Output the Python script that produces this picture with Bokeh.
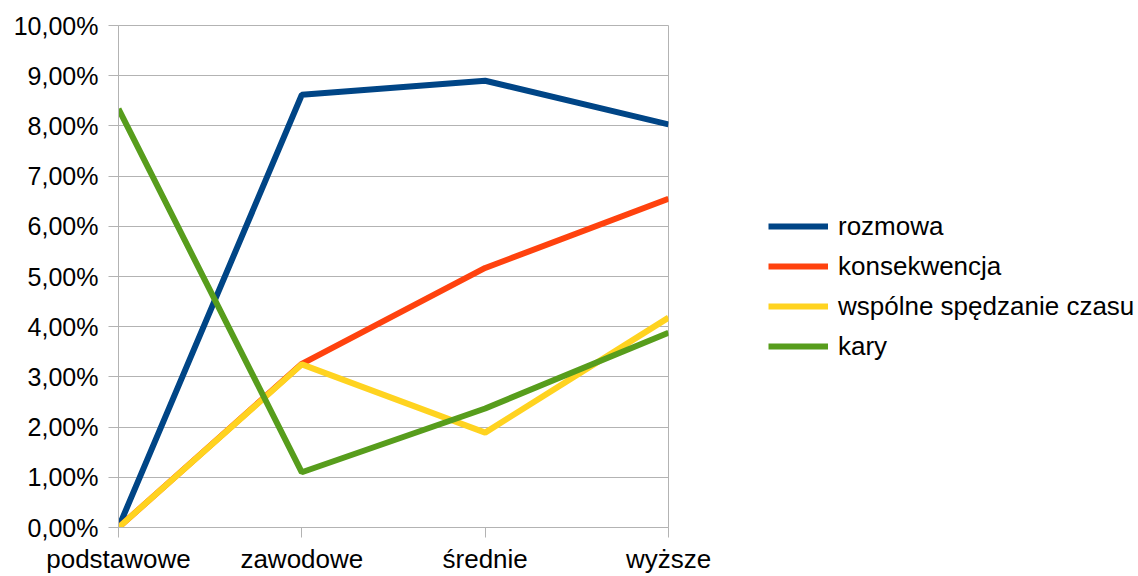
from bokeh.plotting import figure
from bokeh.models import Range1d, FixedTicker, Legend, LegendItem
from bokeh.embed import file_html
from bokeh.resources import INLINE

categories = ["podstawowe", "zawodowe", "średnie", "wyższe"]
rozmowa = [0.0, 8.62, 8.90, 8.03]
konsekwencja = [0.0, 3.26, 5.17, 6.55]
wspolne = [0.0, 3.25, 1.89, 4.18]
kary = [8.34, 1.10, 2.37, 3.88]
series_names = ["rozmowa", "konsekwencja", "wspólne spędzanie czasu", "kary"]
colors = ["#004586", "#ff420e", "#ffd320", "#579d1c"]
y_ticks = list(range(0, 11))
y_labels = {t: f"{t},00%" for t in y_ticks}

FONT = "Liberation Sans"

p = figure(frame_width=550, height=576, output_backend="svg", toolbar_location=None,
           x_range=Range1d(0, len(categories) - 1), y_range=Range1d(0, 10),
           min_border_left=118, min_border_right=100, min_border_top=25, min_border_bottom=48)
p.outline_line_color = "#b3b3b3"
p.background_fill_color = "white"
p.border_fill_color = "white"

xs = list(range(len(categories)))
items = []
for name, vals, col in zip(series_names, [rozmowa, konsekwencja, wspolne, kary], colors):
    r = p.line(xs, vals, line_color=col, line_width=6)
    items.append(LegendItem(label=name, renderers=[r]))

p.xaxis.ticker = FixedTicker(ticks=xs)
p.xaxis.major_label_overrides = {i: c for i, c in enumerate(categories)}
p.yaxis.ticker = FixedTicker(ticks=y_ticks)
p.yaxis.major_label_overrides = y_labels
for ax in (p.xaxis, p.yaxis):
    ax.axis_line_color = "#b3b3b3"
    ax.major_tick_line_color = "#b3b3b3"
    ax.major_tick_in = 0
    ax.major_tick_out = 10
    ax.minor_tick_line_color = None
    ax.major_label_text_font = FONT
    ax.major_label_text_color = "black"
p.xaxis.major_label_text_font_size = "26px"
p.yaxis.major_label_text_font_size = "25px"
p.xaxis.major_label_standoff = 6
p.yaxis.major_label_standoff = 10

p.xgrid.grid_line_color = None
p.ygrid.grid_line_color = "#b3b3b3"
p.ygrid.ticker = FixedTicker(ticks=y_ticks)

legend = Legend(items=items, location=(100, 161))
legend.padding = 0
legend.margin = 0
legend.spacing = 0
legend.glyph_width = 60
legend.glyph_height = 40
legend.label_height = 40
legend.label_standoff = 10
legend.label_text_font = FONT
legend.label_text_font_size = "26px"
legend.label_text_color = "black"
legend.border_line_color = None
legend.background_fill_alpha = 0
p.add_layout(legend, "right")

open("out.html", "w").write(file_html(p, INLINE))
